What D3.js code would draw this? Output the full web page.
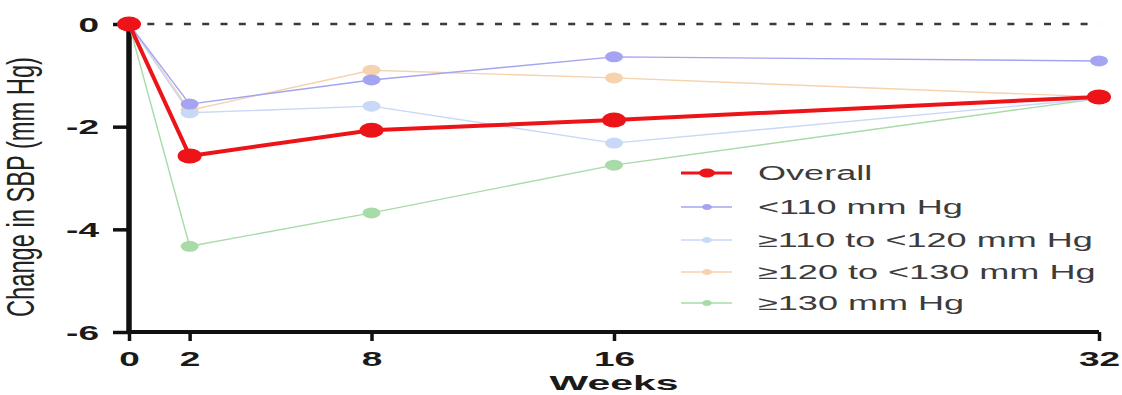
<!DOCTYPE html>
<html><head><meta charset="utf-8">
<script src="https://cdn.jsdelivr.net/npm/d3@7"></script>
<style>body{margin:0;background:#fff}svg{display:block}</style>
</head><body>
<svg id="c" width="1122" height="395"></svg>
<script>
const weeks = [0, 2, 8, 16, 32];
const seriesNames = ["Overall", "<110 mm Hg", "\u2265110 to <120 mm Hg", "\u2265120 to <130 mm Hg", "\u2265130 mm Hg"];
const overall = [0, -2.57, -2.07, -1.87, -1.42];
const lt110 = [0, -1.56, -1.09, -0.64, -0.72];
const r110to120 = [0, -1.73, -1.60, -2.32, -1.45];
const r120to130 = [0, -1.68, -0.90, -1.05, -1.42];
const ge130 = [0, -4.33, -3.68, -2.75, -1.45];
const yTicks = [0, -2, -4, -6];
const xTicks = [0, 2, 8, 16, 32];

const SX = 1.85;  // horizontal stretch of the source figure's glyphs
const FONT = "Liberation Sans, Arial, Helvetica, sans-serif";
const svg = d3.select("#c");
const x = d3.scaleLinear().domain([0, 32]).range([129, 1099]);
const y = d3.scaleLinear().domain([-6, 0]).range([332, 24]);

const styles = [
  {color:"#ec1418", w:4, rx:12, ry:7.5},
  {color:"#a4a4f2", w:1.4, rx:9, ry:5.5},
  {color:"#c8d8f7", w:1.4, rx:9, ry:5.5},
  {color:"#f6d2ae", w:1.4, rx:9, ry:5.5},
  {color:"#a8dba8", w:1.4, rx:9, ry:5.5}
];
const data = [overall, lt110, r110to120, r120to130, ge130];

// zero reference line
svg.append("line").attr("x1", x(0)).attr("x2", x(32)).attr("y1", y(0)).attr("y2", y(0))
  .attr("stroke", "#3a3a3a").attr("stroke-width", 2.5).attr("stroke-dasharray", "7,11.3");

// axes
const yTS = 16, yPad = 14, xTS = 9, xPad = 11;
const yAxis = svg.append("g").attr("transform", `translate(${x(0)},0)`)
  .call(d3.axisLeft(y).tickValues(yTicks).tickFormat(d => String(d)).tickSize(yTS));
const xAxis = svg.append("g").attr("transform", `translate(0,${y(-6)})`)
  .call(d3.axisBottom(x).tickValues(xTicks).tickFormat(d => String(d)).tickSize(xTS));
[yAxis, xAxis].forEach(g => {
  g.selectAll(".tick line").attr("stroke", "#111").attr("stroke-width", 3.5);
  g.selectAll(".tick text").attr("fill", "#1a1a1a").attr("font-family", FONT)
    .attr("font-size", 20).attr("font-weight", "bold");
});
yAxis.select(".domain").attr("d", `M0,${y(-6)+2}V${y(0)}`).attr("stroke", "#111").attr("stroke-width", 5.5);
xAxis.select(".domain").attr("d", `M${x(0)},0H${x(32)}`).attr("stroke", "#111").attr("stroke-width", 4);
yAxis.selectAll(".tick text").attr("x", null).attr("dy", "0.36em")
  .attr("transform", `translate(${-(yTS + yPad)},0) scale(${SX},1)`);
xAxis.selectAll(".tick text").attr("y", null).attr("dy", "0.72em")
  .attr("transform", `translate(0,${xTS + xPad}) scale(${SX},1)`);

// titles
svg.append("text").attr("transform", `translate(${x(16)},390) scale(${SX + 0.1},1)`).attr("text-anchor", "middle")
  .attr("font-family", FONT).attr("font-size", 21).attr("font-weight", "bold")
  .attr("fill", "#1a1a1a").text("Weeks");
svg.append("text").attr("transform", `translate(34,187) scale(2,1) rotate(-90)`).attr("text-anchor", "middle")
  .attr("font-family", FONT).attr("font-size", 19)
  .attr("textLength", 260).attr("lengthAdjust", "spacingAndGlyphs")
  .attr("fill", "#222").text("Change in SBP (mm Hg)");

// series (subgroups first, overall on top)
const line = d3.line().x((d, i) => x(weeks[i])).y(d => y(d));
[4, 3, 2, 1, 0].forEach(k => {
  const s = styles[k];
  const g = svg.append("g");
  g.append("path").datum(data[k]).attr("d", line).attr("fill", "none")
    .attr("stroke", s.color).attr("stroke-width", s.w).attr("stroke-linejoin", "round");
  g.selectAll("ellipse").data(data[k]).join("ellipse")
    .attr("cx", (d, i) => x(weeks[i])).attr("cy", d => y(d)).attr("rx", s.rx).attr("ry", s.ry)
    .attr("fill", s.color);
});

// legend
const legY = [173, 207, 240, 272, 303];
seriesNames.forEach((n, k) => {
  const s = styles[k];
  const g = svg.append("g").attr("transform", `translate(0,${legY[k]})`);
  g.append("line").attr("x1", 681).attr("x2", 732).attr("stroke", s.color).attr("stroke-width", k === 0 ? 3 : 1.4);
  g.append("ellipse").attr("cx", 707).attr("rx", k === 0 ? 8 : 5).attr("ry", k === 0 ? 4.5 : 3).attr("fill", s.color);
  g.append("text").attr("transform", `translate(758,0) scale(${SX},1)`).attr("dy", "0.36em")
    .attr("font-family", FONT).attr("font-size", 19.5).attr("fill", "#3c3c3c").text(n);
});
</script>
</body></html>
